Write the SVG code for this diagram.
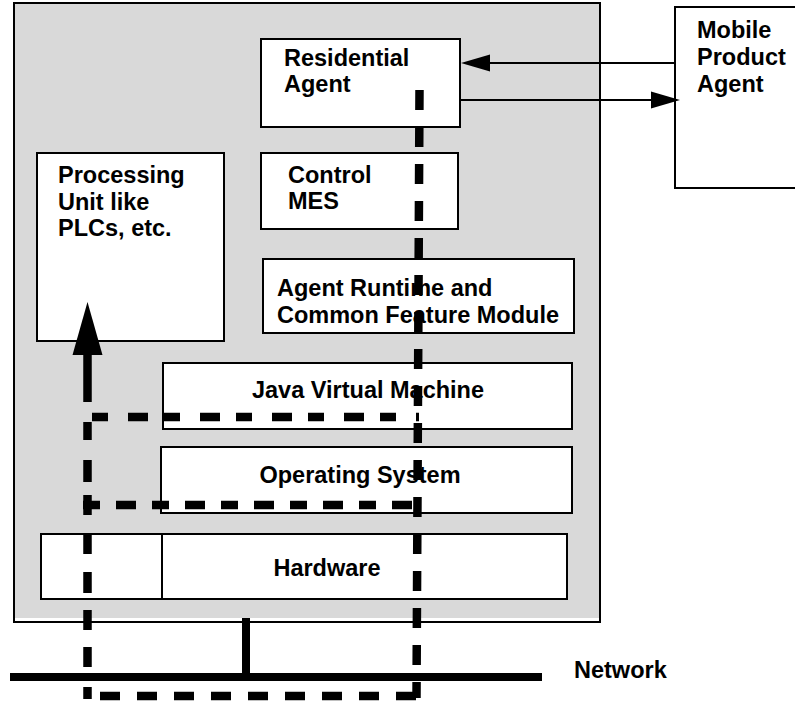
<svg xmlns="http://www.w3.org/2000/svg" width="795" height="704" viewBox="0 0 795 704">
<defs>
<style>
.box{fill:#ffffff;stroke:#000;stroke-width:2}
.t{font-family:"Liberation Sans",Arial,Helvetica,sans-serif;font-weight:bold;font-size:23.5px;fill:#000}
.dash{fill:none;stroke:#000;stroke-width:8.5;stroke-dasharray:20 17}
.ln{fill:none;stroke:#000;stroke-width:2}
</style>
</defs>
<rect width="795" height="704" fill="#ffffff"/>
<g id="platform">
<rect x="14" y="3" width="586" height="615" fill="#d9d9d9"/>
<rect x="14" y="3" width="586" height="619" fill="none" stroke="#000" stroke-width="2"/>
</g>
<g id="residential-agent">
<rect class="box" x="261" y="39" width="199" height="88"/>
<text class="t" x="284" y="66">Residential</text>
<text class="t" x="284" y="92">Agent</text>
</g>
<g id="control-mes">
<rect class="box" x="261" y="153" width="197" height="76"/>
<text class="t" x="288" y="183">Control</text>
<text class="t" x="288" y="209">MES</text>
</g>
<g id="processing-unit">
<rect class="box" x="37" y="153" width="187" height="188"/>
<text class="t" x="58" y="183">Processing</text>
<text class="t" x="58" y="209.5">Unit like</text>
<text class="t" x="58" y="236">PLCs, etc.</text>
</g>
<g id="agent-runtime">
<rect class="box" x="263" y="259" width="311" height="74"/>
<text class="t" x="277" y="296">Agent Runtime and</text>
<text class="t" x="277" y="323">Common Feature Module</text>
</g>
<g id="jvm">
<rect class="box" x="163" y="363" width="409" height="66"/>
<text class="t" x="368" y="398" text-anchor="middle">Java Virtual Machine</text>
</g>
<g id="os">
<rect class="box" x="161" y="447" width="411" height="66"/>
<text class="t" x="360" y="483" text-anchor="middle">Operating System</text>
</g>
<g id="hardware">
<rect class="box" x="41" y="534" width="526" height="65"/>
<line class="ln" x1="162" y1="534" x2="162" y2="599"/>
<text class="t" x="327" y="576" text-anchor="middle">Hardware</text>
</g>
<g id="mobile-product-agent">
<rect class="box" x="675" y="7" width="130" height="181"/>
<text class="t" x="697" y="38">Mobile</text>
<text class="t" x="697" y="65">Product</text>
<text class="t" x="697" y="92">Agent</text>
</g>
<g id="network">
<line x1="10" y1="677" x2="542" y2="677" stroke="#000" stroke-width="8"/>
<line x1="246" y1="618" x2="246" y2="677" stroke="#000" stroke-width="8"/>
<text class="t" x="574" y="678">Network</text>
</g>
<g id="connectors">
<line class="ln" x1="675" y1="63" x2="488" y2="63"/>
<polygon points="461,63 490,54.5 490,71.5" fill="#000"/>
<line class="ln" x1="460" y1="100" x2="653" y2="100"/>
<polygon points="680,100 651,91.5 651,108.5" fill="#000"/>
<line class="dash" x1="419.5" y1="90" x2="416.5" y2="698"/>
<line class="dash" x1="416" y1="696" x2="83" y2="696"/>
<line class="dash" x1="87.5" y1="352" x2="87.5" y2="699" style="stroke-dasharray:50 20 18 20 22 13 20 20 19 18 21 17 20 17 20 20 20"/>
<polygon points="87.5,302 72.5,355 102.5,355" fill="#000"/>
<line class="dash" x1="92" y1="417" x2="419" y2="417" style="stroke-dasharray:16 20 20 16"/>
<line class="dash" x1="83" y1="505" x2="419" y2="505" style="stroke-dasharray:17 16 20 16"/>
</g>
</svg>
